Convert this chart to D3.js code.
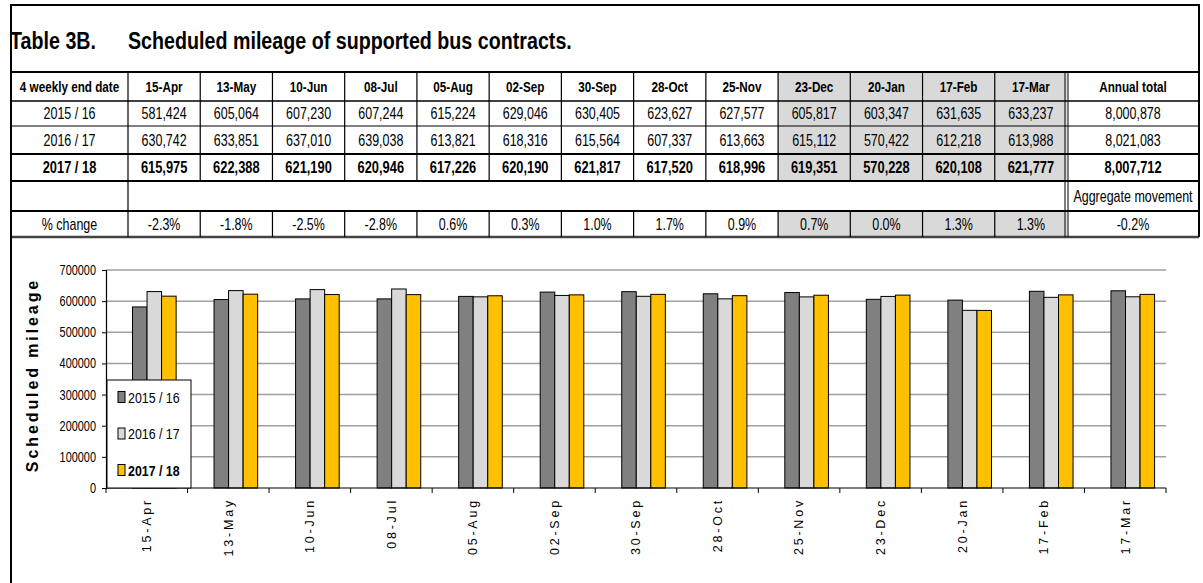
<!DOCTYPE html>
<html lang="en">
<head>
    <meta charset="UTF-8">
    <script src="https://cdn.jsdelivr.net/npm/d3@7"></script>
    <title>Table 3B. Scheduled mileage of supported bus contracts</title>
    <style>
        html, body {
            margin: 0px;
            padding: 0px;
            background-color: #ffffff;
        }
        svg text {
            font-family: "Liberation Sans", Arial, sans-serif;
            fill: #000;
        }
    </style>
</head>
<body>
    <div id="chart"></div>

    <script>
        let periods = ['15-Apr', '13-May', '10-Jun', '08-Jul', '05-Aug', '02-Sep', '30-Sep',
                       '28-Oct', '25-Nov', '23-Dec', '20-Jan', '17-Feb', '17-Mar'];
        let years = ['2015 / 16', '2016 / 17', '2017 / 18'];
        let mileage1516 = [581424, 605064, 607230, 607244, 615224, 629046, 630405, 623627, 627577, 605817, 603347, 631635, 633237];
        let mileage1617 = [630742, 633851, 637010, 639038, 613821, 618316, 615564, 607337, 613663, 615112, 570422, 612218, 613988];
        let mileage1718 = [615975, 622388, 621190, 620946, 617226, 620190, 621817, 617520, 618996, 619351, 570228, 620108, 621777];
        let annualTotals = [8000878, 8021083, 8007712];
        let pctChange = ['-2.3%', '-1.8%', '-2.5%', '-2.8%', '0.6%', '0.3%', '1.0%', '1.7%', '0.9%', '0.7%', '0.0%', '1.3%', '1.3%'];
        let aggregateMovement = '-0.2%';
        let shadedFrom = 9; // 23-Dec onwards is shaded
        let yTicks = [0, 100000, 200000, 300000, 400000, 500000, 600000, 700000];
        let colors = ['#808080', '#d9d9d9', '#ffc000'];

        let width = 1203;
        let height = 583;
        let fmt = d3.format(',');
        let squeeze = 0.78; // Arial Narrow look from Liberation Sans

        let svg = d3.select('#chart').append('svg').attr('width', width).attr('height', height);

        // narrow text placed at (x, y)
        function narrow(sel, fx, fy, s = squeeze) {
            return sel.attr('transform', (d, i) => `translate(${fx(d, i)},${fy(d, i)}) scale(${s},1)`);
        }

        // ---------- table ----------
        let tLeft = 11, tRight = 1199, tTop = 5;
        let firstCol = 128, totalCol = 1067;
        let rowEdges = [72, 101, 126, 154, 181, 211, 237];

        let cx = d3.scaleBand().domain(periods).range([firstCol, totalCol]);

        let table = svg.append('g');

        // shading for the last four periods
        let shaded = periods.slice(shadedFrom);
        [[0, 4], [5, 6]].forEach(([r0, r1]) => {
            table.selectAll(null)
                .data(shaded)
                .join('rect')
                .attr('x', d => cx(d))
                .attr('y', rowEdges[r0])
                .attr('width', cx.bandwidth())
                .attr('height', rowEdges[r1] - rowEdges[r0])
                .attr('fill', '#d9d9d9');
        });

        // title
        narrow(table.append('text'), () => 10, () => 49, 0.82)
            .attr('font-size', 24).attr('font-weight', 'bold')
            .text('Table 3B.');
        narrow(table.append('text'), () => firstCol, () => 49, 0.82)
            .attr('font-size', 24).attr('font-weight', 'bold')
            .text('Scheduled mileage of supported bus contracts.');

        // horizontal rules
        let hw = [2, 1.5, 1, 2, 2, 2, 2.5];
        rowEdges.forEach((yy, i) => {
            table.append('line')
                .attr('x1', tLeft).attr('x2', tRight).attr('y1', yy).attr('y2', yy)
                .attr('stroke', i === 6 ? '#444' : '#000').attr('stroke-width', hw[i]);
        });
        table.append('line').attr('x1', tLeft - 1).attr('x2', tRight + 1).attr('y1', tTop).attr('y2', tTop)
            .attr('stroke', '#000').attr('stroke-width', 2);

        // vertical rules
        let inner = periods.slice(1).map(d => cx(d));
        [[0, 4], [5, 6]].forEach(([r0, r1]) => {
            table.selectAll(null)
                .data(inner)
                .join('line')
                .attr('x1', d => d).attr('x2', d => d)
                .attr('y1', rowEdges[r0]).attr('y2', rowEdges[r1])
                .attr('stroke', '#000').attr('stroke-width', 1.2);
        });
        table.append('line').attr('x1', firstCol).attr('x2', firstCol).attr('y1', rowEdges[0]).attr('y2', rowEdges[6])
            .attr('stroke', '#000').attr('stroke-width', 1.2);
        [totalCol - 2, totalCol + 1].forEach(xx => {
            table.append('line').attr('x1', xx).attr('x2', xx).attr('y1', rowEdges[0]).attr('y2', rowEdges[6])
                .attr('stroke', '#000').attr('stroke-width', 1);
        });
        table.append('line').attr('x1', tRight).attr('x2', tRight).attr('y1', tTop).attr('y2', rowEdges[6])
            .attr('stroke', '#000').attr('stroke-width', 2);
        svg.append('line').attr('x1', tLeft).attr('x2', tLeft).attr('y1', tTop).attr('y2', height)
            .attr('stroke', '#000').attr('stroke-width', 2);

        // cell text
        let mid = i => (rowEdges[i] + rowEdges[i + 1]) / 2;
        let firstMid = (tLeft + firstCol) / 2;
        let totalMid = (totalCol + tRight) / 2;

        function rowText(i, label, values, total, size, bold) {
            let g = table.append('g')
                .attr('font-size', size)
                .attr('font-weight', bold ? 'bold' : 'normal')
                .attr('text-anchor', 'middle');
            narrow(g.append('text'), () => firstMid, () => mid(i)).attr('dy', '0.36em').text(label);
            narrow(g.selectAll(null).data(values).join('text'),
                   (d, j) => cx(periods[j]) + cx.bandwidth() / 2, () => mid(i))
                .attr('dy', '0.36em')
                .text(d => d);
            narrow(g.append('text'), () => totalMid, () => mid(i)).attr('dy', '0.36em').text(total);
        }

        rowText(0, '4 weekly end date', periods, 'Annual total', 15, true);
        rowText(1, years[0], mileage1516.map(fmt), fmt(annualTotals[0]), 16, false);
        rowText(2, years[1], mileage1617.map(fmt), fmt(annualTotals[1]), 16, false);
        rowText(3, years[2], mileage1718.map(fmt), fmt(annualTotals[2]), 16.5, true);
        rowText(5, '% change', pctChange, aggregateMovement, 16, false);
        narrow(table.append('text'), () => totalMid, () => mid(4))
            .attr('dy', '0.36em')
            .attr('text-anchor', 'middle').attr('font-size', 16)
            .text('Aggregate movement');

        // ---------- bar chart ----------
        let plot = { left: 106, right: 1166, top: 270, bottom: 488 };

        let x = d3.scaleBand().domain(periods).range([plot.left, plot.right]);
        let x1 = d3.scaleBand().domain(years)
            .range([x.bandwidth() * 0.325, x.bandwidth() * 0.86]);
        let y = d3.scaleLinear().domain([0, 700000]).range([plot.bottom, plot.top]);

        let series = [mileage1516, mileage1617, mileage1718];
        let rows = periods.map((p, i) => ({
            period: p,
            values: years.map((yr, k) => ({ year: yr, k: k, value: series[k][i] }))
        }));

        let chart = svg.append('g');

        // gridlines
        chart.append('g')
            .selectAll('line')
            .data(yTicks.slice(1))
            .join('line')
            .attr('x1', plot.left).attr('x2', plot.right)
            .attr('y1', d => y(d)).attr('y2', d => y(d))
            .attr('stroke', '#a0a0a0').attr('stroke-width', 1.5);

        // bars
        chart.append('g')
            .selectAll('g')
            .data(rows)
            .join('g')
            .attr('transform', d => `translate(${x(d.period)},0)`)
            .selectAll('rect')
            .data(d => d.values)
            .join('rect')
            .attr('x', d => x1(d.year))
            .attr('y', d => y(d.value))
            .attr('width', x1.bandwidth())
            .attr('height', d => y(0) - y(d.value))
            .attr('fill', d => colors[d.k])
            .attr('stroke', '#000')
            .attr('stroke-width', 1);

        // y axis
        let yAxis = chart.append('g')
            .attr('transform', `translate(${plot.left},0)`)
            .call(d3.axisLeft(y).tickValues(yTicks).tickFormat(d3.format('d')).tickSize(4).tickPadding(6));
        yAxis.attr('font-family', null).attr('font-size', null);
        yAxis.select('.domain').attr('stroke', '#000').attr('stroke-width', 1.2);
        yAxis.selectAll('.tick line').attr('stroke', '#000');
        yAxis.selectAll('text')
            .attr('font-size', 14)
            .attr('x', -10 / squeeze)
            .attr('transform', `scale(${squeeze},1)`);

        // x axis with ticks between categories
        let xAxis = chart.append('g')
            .attr('transform', `translate(0,${plot.bottom})`);
        xAxis.append('line')
            .attr('x1', plot.left).attr('x2', plot.right)
            .attr('stroke', '#000').attr('stroke-width', 1.2);
        xAxis.selectAll('line.tick')
            .data(periods.map(d => x(d)).concat([plot.right]))
            .join('line')
            .attr('class', 'tick')
            .attr('x1', d => d).attr('x2', d => d)
            .attr('y1', 0).attr('y2', 5)
            .attr('stroke', '#000');
        xAxis.selectAll('text')
            .data(periods)
            .join('text')
            .attr('transform', d => `translate(${x(d) + x.bandwidth() / 2},10) rotate(-90)`)
            .attr('text-anchor', 'end')
            .attr('dy', '0.35em')
            .attr('font-size', 12.5)
            .attr('letter-spacing', 2.8)
            .text(d => d);

        // y axis title
        chart.append('text')
            .attr('transform', 'translate(38,375) rotate(-90)')
            .attr('text-anchor', 'middle')
            .attr('font-size', 16)
            .attr('font-weight', 'bold')
            .attr('letter-spacing', 2.9)
            .text('Scheduled mileage');

        // legend
        let legend = chart.append('g').attr('transform', 'translate(107,380)');
        legend.append('rect')
            .attr('width', 84).attr('height', 108)
            .attr('fill', '#fff').attr('stroke', '#000').attr('stroke-width', 1);
        let item = legend.selectAll('g')
            .data(years)
            .join('g')
            .attr('transform', (d, i) => `translate(11,${17 + i * 36.5})`);
        item.append('rect')
            .attr('y', -5.5).attr('width', 7).attr('height', 11)
            .attr('fill', (d, i) => colors[i])
            .attr('stroke', '#000').attr('stroke-width', 1);
        narrow(item.append('text'), () => 10, () => 0, 0.8)
            .attr('dy', '0.36em')
            .attr('font-size', 15.5)
            .attr('font-weight', (d, i) => i === 2 ? 'bold' : 'normal')
            .text(d => d);
    </script>
</body>
</html>
